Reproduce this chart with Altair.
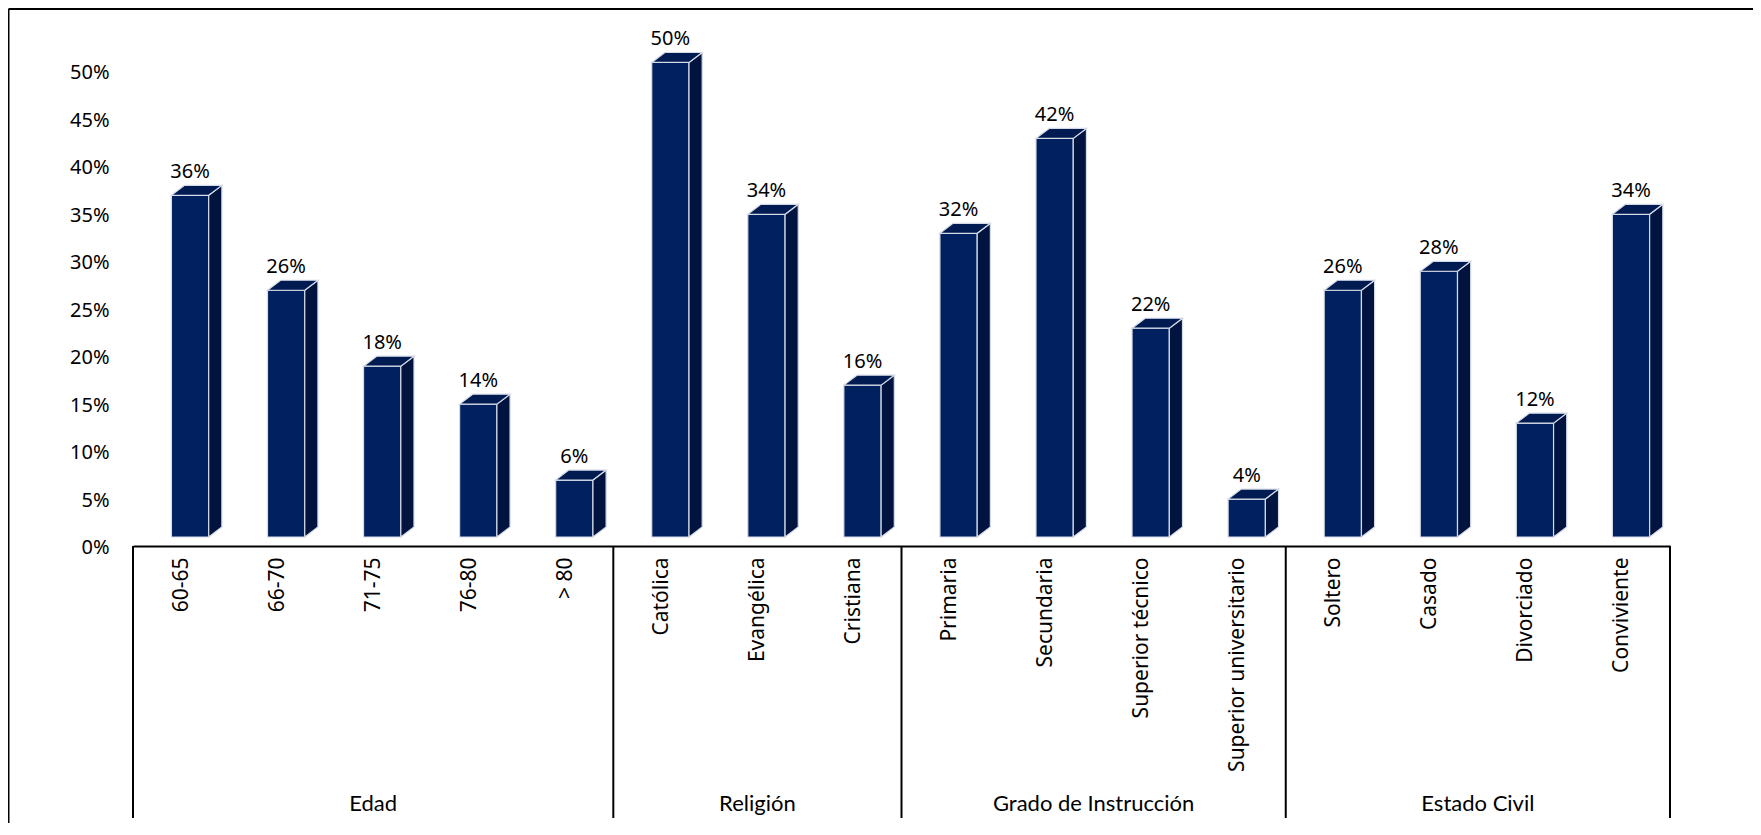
import json
import altair as alt
import pandas as pd

# ---------------- data ----------------
categories = ["60-65", "66-70", "71-75", "76-80", "> 80",
              "Católica", "Evangélica", "Cristiana",
              "Primaria", "Secundaria", "Superior técnico", "Superior universitario",
              "Soltero", "Casado", "Divorciado", "Conviviente"]
values = [36, 26, 18, 14, 6, 50, 34, 16, 32, 42, 22, 4, 26, 28, 12, 34]
groups = ["Edad", "Religión", "Grado de Instrucción", "Estado Civil"]
group_sizes = [5, 3, 4, 4]
y_ticks = [0, 5, 10, 15, 20, 25, 30, 35, 40, 45, 50]

# ---------------- style / geometry ----------------
W, H = 1537, 522
FRONT_A, FRONT_B = 0.40, 0.788      # front face within a category slot
DEPTH_X, DEPTH_Y = 0.137, 1.05      # 3D depth in x-units and %-units
C_FRONT, C_SIDE, C_TOP = "#002060", "#00143f", "#001a52"
EDGE = "#d5dbe6"
FONT = "Noto Sans"
GFONT = "Lato"

n = len(categories)
xs = alt.Scale(domain=[0, n], nice=False, zero=False, padding=0)
ys = alt.Scale(domain=[0, 55], nice=False)

front = pd.DataFrame({
    "cat": categories,
    "v": values,
    "x0": [i + FRONT_A for i in range(n)],
    "x1": [i + FRONT_B for i in range(n)],
    "xm": [i + (FRONT_A + FRONT_B) / 2 for i in range(n)],
    "lab": [f"{v}%" for v in values],
})

top_rows, side_rows = [], []
for i, v in enumerate(values):
    a, b = i + FRONT_A, i + FRONT_B
    top_rows += [
        {"bar": f"b{i}", "px": a, "ya": v, "yb": v},
        {"bar": f"b{i}", "px": a + DEPTH_X, "ya": v + DEPTH_Y, "yb": v},
        {"bar": f"b{i}", "px": b, "ya": v + DEPTH_Y, "yb": v},
        {"bar": f"b{i}", "px": b + DEPTH_X, "ya": v + DEPTH_Y, "yb": v + DEPTH_Y},
    ]
    side_rows += [
        {"bar": f"b{i}", "px": b, "ya": v, "yb": 0},
        {"bar": f"b{i}", "px": b + DEPTH_X, "ya": v + DEPTH_Y, "yb": DEPTH_Y},
    ]
top_df = pd.DataFrame(top_rows)
side_df = pd.DataFrame(side_rows)

bounds = [0]
for s in group_sizes:
    bounds.append(bounds[-1] + s)
sep_df = pd.DataFrame({"b": bounds})
grp_df = pd.DataFrame({
    "g": groups,
    "m": [(bounds[k] + bounds[k + 1]) / 2 for k in range(len(groups))],
})

cat_js = json.dumps(categories, ensure_ascii=False)

x_axis = alt.Axis(
    values=[i + 0.5 for i in range(n)],
    labelExpr=f"{cat_js}[floor(datum.value)]",
    labelAngle=270, labelAlign="right", labelBaseline="middle",
    labelFont=FONT, labelFontSize=21, labelColor="#000000",
    labelPadding=11, offset=9, labelLimit=0,
    domain=True, domainColor="#000000", domainWidth=2,
    ticks=False, grid=False, title=None, labelOverlap=False,
)
y_axis = alt.Axis(
    values=y_ticks, labelExpr="datum.value + '%'",
    labelFont=FONT, labelFontSize=20, labelColor="#000000",
    labelPadding=24, labelOffset=10.5,
    domain=False, ticks=False, grid=False, title=None,
)

bars = alt.Chart(front).mark_bar(
    color=C_FRONT, stroke=EDGE, strokeWidth=1.2
).encode(
    x=alt.X("x0:Q", scale=xs, axis=x_axis),
    x2="x1:Q",
    y=alt.Y("v:Q", scale=ys, axis=y_axis),
    y2=alt.Y2(datum=0),
)


def face(df, fill):
    return alt.Chart(df).mark_area(
        fill=fill, fillOpacity=1, opacity=1, stroke=EDGE, strokeWidth=1.2,
        orient="vertical", interpolate="linear",
    ).encode(
        x=alt.X("px:Q", scale=xs),
        y=alt.Y("ya:Q", scale=ys, stack=None),
        y2=alt.Y2("yb:Q"),
        detail=alt.Detail("bar:N"),
    )


side = face(side_df, C_SIDE)
top = face(top_df, C_TOP)

labels = alt.Chart(front).mark_text(
    font=FONT, fontSize=20, color="#000000", baseline="alphabetic", dy=-17
).encode(
    x=alt.X("xm:Q", scale=xs),
    y=alt.Y("v:Q", scale=ys),
    text="lab:N",
)

seps = alt.Chart(sep_df).mark_rule(color="#000000", strokeWidth=2).encode(
    x=alt.X("b:Q", scale=xs),
    y=alt.value(H + 9),
    y2=alt.value(H + 281),
)

grp_labels = alt.Chart(grp_df).mark_text(
    font=GFONT, fontSize=22, color="#000000", baseline="middle"
).encode(
    x=alt.X("m:Q", scale=xs),
    y=alt.value(H + 267),
    text="g:N",
)

one = pd.DataFrame({"k": [0]})
border_v = alt.Chart(one).mark_rule(color="#000000", strokeWidth=2).encode(
    x=alt.value(-124.5), y=alt.value(-6), y2=alt.value(H + 300),
)
border_h = alt.Chart(one).mark_rule(color="#000000", strokeWidth=2).encode(
    x=alt.value(-124.5), x2=alt.value(W + 90), y=alt.value(-6),
)

chart = alt.layer(
    bars, side, top, labels, seps, grp_labels, border_v, border_h
).properties(
    width=W, height=H,
    padding={"left": 125, "top": 7, "right": 83, "bottom": 286},
    autosize=alt.AutoSizeParams(type="none"),
    background="#ffffff",
).configure_view(strokeWidth=0, stroke=None)

chart.save("out.html", embed_options={"renderer": "svg", "actions": False})
